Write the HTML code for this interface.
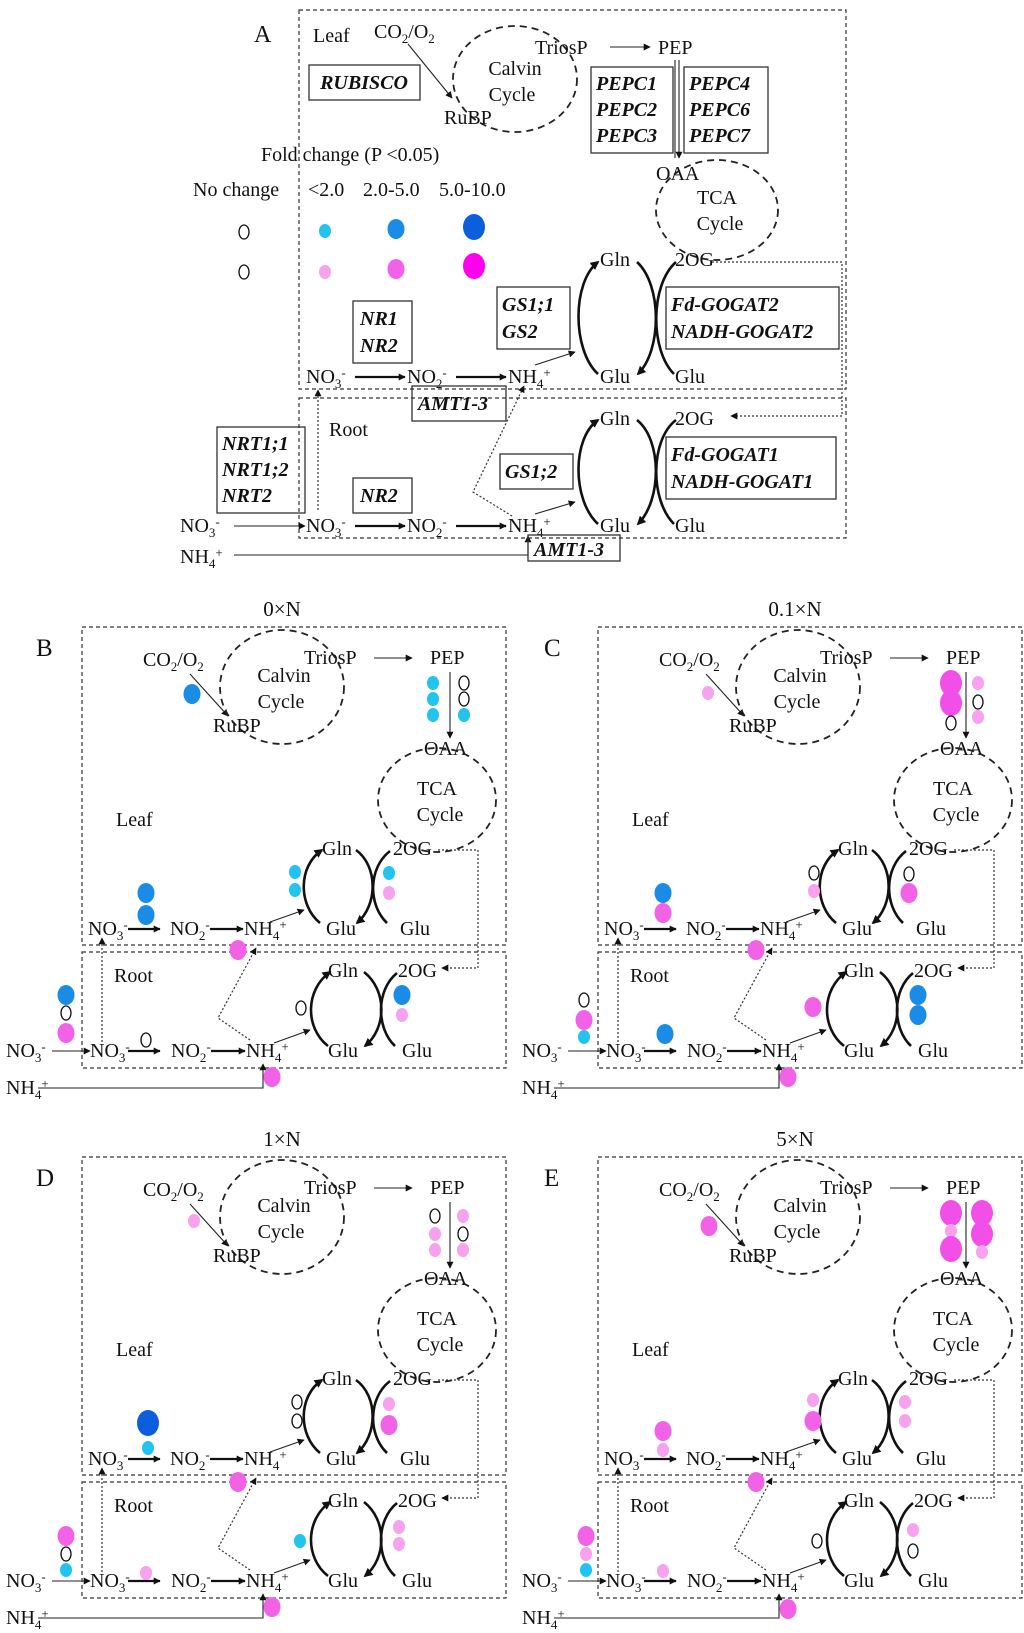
<!DOCTYPE html>
<html><head><meta charset="utf-8"><style>
html,body{margin:0;padding:0;background:#fff;}
svg{display:block;}
text{font-family:"Liberation Serif",serif;font-size:20px;fill:#111;}
.bi{font-weight:bold;font-style:italic;font-size:20px;}
.sb{font-size:13px;}
.box{fill:none;stroke:#333;stroke-width:1.2;stroke-dasharray:4 3;}
.gb{fill:none;stroke:#333;stroke-width:1.3;}
.cyc{fill:none;stroke:#222;stroke-width:1.8;stroke-dasharray:7 5;}
.ln{stroke:#222;stroke-width:1.1;fill:none;}
.th{stroke:#111;stroke-width:2.2;fill:none;}
.arc{stroke:#111;stroke-width:2.6;fill:none;}
.dt{stroke:#333;stroke-width:1.2;fill:none;stroke-dasharray:2 2;}
</style></head><body>
<svg width="1024" height="1633" viewBox="0 0 1024 1633" xmlns="http://www.w3.org/2000/svg">
<defs>
<marker id="a" viewBox="0 0 10 10" refX="9" refY="5" markerWidth="7" markerHeight="7" orient="auto" markerUnits="userSpaceOnUse"><path d="M0,0 L10,5 L0,10 z" fill="#111"/></marker>
<marker id="b" viewBox="0 0 10 10" refX="8" refY="5" markerWidth="9" markerHeight="9" orient="auto" markerUnits="userSpaceOnUse"><path d="M0,0 L10,5 L0,10 z" fill="#111"/></marker>
<ellipse id="sc" rx="6" ry="7" fill="#22c3ee"/>
<ellipse id="mb" rx="8.5" ry="10" fill="#1a8ce6"/>
<ellipse id="lb" rx="11" ry="13" fill="#0b5fdc"/>
<ellipse id="sp" rx="6" ry="7" fill="#f7a2ee"/>
<ellipse id="mp" rx="8.5" ry="10" fill="#f262e6"/>
<ellipse id="lp" rx="11" ry="13" fill="#f24ee8"/>
<ellipse id="lpp" rx="11" ry="13" fill="#ff00ee"/>
<ellipse id="o" rx="5" ry="7" fill="#fff" stroke="#111" stroke-width="1.3"/>
</defs>

<!-- ===== Panel A ===== -->
<rect x="299" y="10" width="547" height="379" class="box"/>
<rect x="299" y="398" width="547" height="140" class="box"/>
<text x="254" y="42" style="font-size:24px">A</text>
<text x="313" y="42">Leaf</text>
<text x="374" y="38">CO<tspan class="sb" dy="5">2</tspan><tspan dy="-5">/O</tspan><tspan class="sb" dy="5">2</tspan></text>
<line x1="408" y1="44" x2="452" y2="98" class="ln" marker-end="url(#a)"/>
<ellipse cx="515" cy="79" rx="62" ry="53" class="cyc"/>
<text x="515" y="75" text-anchor="middle">Calvin</text>
<text x="512" y="101" text-anchor="middle">Cycle</text>
<rect x="309" y="65" width="111" height="35" class="gb"/>
<text x="364" y="89" text-anchor="middle" class="bi">RUBISCO</text>
<text x="444" y="124">RuBP</text>
<text x="535" y="54">TriosP</text>
<line x1="610" y1="47" x2="650" y2="47" class="ln" marker-end="url(#a)"/>
<text x="658" y="54">PEP</text>
<rect x="591" y="67" width="82" height="86" class="gb"/>
<text x="596" y="90" class="bi">PEPC1</text><text x="596" y="116" class="bi">PEPC2</text><text x="596" y="142" class="bi">PEPC3</text>
<rect x="684" y="67" width="84" height="86" class="gb"/>
<text x="689" y="90" class="bi">PEPC4</text><text x="689" y="116" class="bi">PEPC6</text><text x="689" y="142" class="bi">PEPC7</text>
<line x1="675" y1="60" x2="675" y2="158" class="ln"/>
<line x1="679" y1="60" x2="679" y2="158" class="ln" marker-end="url(#a)"/>
<text x="656" y="180">OAA</text>
<ellipse cx="717" cy="210" rx="61" ry="50" class="cyc"/>
<text x="717" y="204" text-anchor="middle">TCA</text>
<text x="720" y="230" text-anchor="middle">Cycle</text>
<text x="261" y="161">Fold change (P &lt;0.05)</text>
<text x="193" y="196">No change</text>
<text x="308" y="196">&lt;2.0</text>
<text x="363" y="196">2.0-5.0</text>
<text x="439" y="196">5.0-10.0</text>
<use href="#o" x="244" y="232"/><use href="#sc" x="325" y="231"/><use href="#mb" x="396" y="229"/><use href="#lb" x="474" y="227"/>
<use href="#o" x="244" y="272"/><use href="#sp" x="325" y="272"/><use href="#mp" x="396" y="269"/><use href="#lpp" x="474" y="266"/>
<text x="600" y="266">Gln</text>
<text x="675" y="266">2OG</text>
<path d="M598 374 C572 350,572 282,598 262" class="arc" marker-end="url(#b)"/>
<path d="M637 262 C662 285,662 350,638 374" class="arc" marker-end="url(#b)"/>
<path d="M676 262 C650 285,650 350,674 374" class="arc"/>
<rect x="497" y="287" width="73" height="62" class="gb"/>
<text x="502" y="311" class="bi">GS1;1</text><text x="502" y="338" class="bi">GS2</text>
<rect x="666" y="287" width="173" height="62" class="gb"/>
<text x="671" y="311" class="bi">Fd-GOGAT2</text><text x="671" y="338" class="bi">NADH-GOGAT2</text>
<rect x="353" y="301" width="59" height="62" class="gb"/>
<text x="360" y="325" class="bi">NR1</text><text x="360" y="352" class="bi">NR2</text>
<text x="306" y="383">NO<tspan class="sb" dy="5">3</tspan><tspan class="sb" dy="-11">-</tspan></text>
<line x1="355" y1="377" x2="405" y2="377" class="th" marker-end="url(#a)"/>
<text x="407" y="383">NO<tspan class="sb" dy="5">2</tspan><tspan class="sb" dy="-11">-</tspan></text>
<line x1="456" y1="377" x2="506" y2="377" class="th" marker-end="url(#a)"/>
<text x="508" y="383">NH<tspan class="sb" dy="5">4</tspan><tspan class="sb" dy="-11">+</tspan></text>
<line x1="535" y1="365" x2="575" y2="352" class="ln" marker-end="url(#a)"/>
<text x="600" y="383">Glu</text>
<text x="675" y="383">Glu</text>
<rect x="412" y="386" width="94" height="35" class="gb"/>
<text x="418" y="410" class="bi">AMT1-3</text>
<path d="M712 262 H842 V416 H731" class="dt" marker-end="url(#a)"/>
<text x="329" y="436">Root</text>
<text x="600" y="425">Gln</text>
<text x="675" y="425">2OG</text>
<path d="M598 524 C572 500,572 438,598 420" class="arc" marker-end="url(#b)"/>
<path d="M637 420 C662 440,662 500,638 524" class="arc" marker-end="url(#b)"/>
<path d="M676 420 C650 440,650 500,674 524" class="arc"/>
<rect x="217" y="427" width="88" height="86" class="gb"/>
<text x="222" y="450" class="bi">NRT1;1</text><text x="222" y="476" class="bi">NRT1;2</text><text x="222" y="502" class="bi">NRT2</text>
<rect x="500" y="454" width="73" height="35" class="gb"/>
<text x="505" y="478" class="bi">GS1;2</text>
<rect x="666" y="437" width="170" height="62" class="gb"/>
<text x="671" y="461" class="bi">Fd-GOGAT1</text><text x="671" y="488" class="bi">NADH-GOGAT1</text>
<rect x="353" y="478" width="59" height="35" class="gb"/>
<text x="360" y="502" class="bi">NR2</text>
<text x="180" y="532">NO<tspan class="sb" dy="5">3</tspan><tspan class="sb" dy="-11">-</tspan></text>
<line x1="234" y1="526" x2="305" y2="526" class="ln" marker-end="url(#a)"/>
<text x="306" y="532">NO<tspan class="sb" dy="5">3</tspan><tspan class="sb" dy="-11">-</tspan></text>
<line x1="355" y1="526" x2="405" y2="526" class="th" marker-end="url(#a)"/>
<text x="407" y="532">NO<tspan class="sb" dy="5">2</tspan><tspan class="sb" dy="-11">-</tspan></text>
<line x1="456" y1="526" x2="506" y2="526" class="th" marker-end="url(#a)"/>
<text x="508" y="532">NH<tspan class="sb" dy="5">4</tspan><tspan class="sb" dy="-11">+</tspan></text>
<line x1="535" y1="514" x2="575" y2="502" class="ln" marker-end="url(#a)"/>
<text x="600" y="532">Glu</text>
<text x="675" y="532">Glu</text>
<path d="M318 510 V390" class="dt" marker-end="url(#a)"/>
<path d="M512 516 L473 492 L524 386" class="dt" marker-end="url(#a)"/>
<text x="180" y="563">NH<tspan class="sb" dy="5">4</tspan><tspan class="sb" dy="-11">+</tspan></text>
<path d="M234 555 H528 V536" class="ln" marker-end="url(#a)"/>
<rect x="528" y="535" width="92" height="26" class="gb"/>
<text x="534" y="556" class="bi">AMT1-3</text>

<!-- ===== Panels B-E (template) ===== -->
<g id="pB">
<rect x="82" y="627" width="424" height="318" class="box"/>
<rect x="82" y="952" width="424" height="116" class="box"/>
<text x="143" y="666">CO<tspan class="sb" dy="5">2</tspan><tspan dy="-5">/O</tspan><tspan class="sb" dy="5">2</tspan></text>
<line x1="190" y1="674" x2="228" y2="716" class="ln" marker-end="url(#a)"/>
<ellipse cx="282" cy="687" rx="62" ry="57" class="cyc"/>
<text x="284" y="682" text-anchor="middle">Calvin</text>
<text x="281" y="708" text-anchor="middle">Cycle</text>
<text x="213" y="732">RuBP</text>
<text x="304" y="664">TriosP</text>
<line x1="374" y1="658" x2="412" y2="658" class="ln" marker-end="url(#a)"/>
<text x="430" y="664">PEP</text>
<line x1="450" y1="672" x2="450" y2="738" class="ln" marker-end="url(#a)"/>
<text x="424" y="755">OAA</text>
<ellipse cx="437" cy="800" rx="59" ry="52" class="cyc"/>
<text x="437" y="795" text-anchor="middle">TCA</text>
<text x="440" y="821" text-anchor="middle">Cycle</text>
<text x="116" y="826">Leaf</text>
<text x="322" y="855">Gln</text>
<text x="393" y="855">2OG</text>
<path d="M320 923 C298 905,298 866,322 850" class="arc" marker-end="url(#b)"/>
<path d="M356 850 C378 866,378 905,357 923" class="arc" marker-end="url(#b)"/>
<path d="M390 851 C368 868,368 905,387 923" class="arc"/>
<path d="M438 850 H478 V968 H442" class="dt" marker-end="url(#a)"/>
<text x="88" y="935">NO<tspan class="sb" dy="5">3</tspan><tspan class="sb" dy="-11">-</tspan></text>
<line x1="128" y1="929" x2="160" y2="929" class="th" marker-end="url(#a)"/>
<text x="170" y="935">NO<tspan class="sb" dy="5">2</tspan><tspan class="sb" dy="-11">-</tspan></text>
<line x1="210" y1="929" x2="243" y2="929" class="th" marker-end="url(#a)"/>
<text x="244" y="935">NH<tspan class="sb" dy="5">4</tspan><tspan class="sb" dy="-11">+</tspan></text>
<line x1="270" y1="922" x2="304" y2="910" class="ln" marker-end="url(#a)"/>
<text x="326" y="935">Glu</text>
<text x="400" y="935">Glu</text>
<text x="114" y="982">Root</text>
<text x="328" y="977">Gln</text>
<text x="398" y="977">2OG</text>
<path d="M328 1046 C305 1028,305 990,330 972" class="arc" marker-end="url(#b)"/>
<path d="M364 972 C387 990,387 1028,365 1046" class="arc" marker-end="url(#b)"/>
<path d="M397 973 C376 990,376 1028,395 1046" class="arc"/>
<text x="6" y="1057">NO<tspan class="sb" dy="5">3</tspan><tspan class="sb" dy="-11">-</tspan></text>
<line x1="52" y1="1051" x2="90" y2="1051" class="ln" marker-end="url(#a)"/>
<text x="90" y="1057">NO<tspan class="sb" dy="5">3</tspan><tspan class="sb" dy="-11">-</tspan></text>
<line x1="128" y1="1051" x2="160" y2="1051" class="th" marker-end="url(#a)"/>
<text x="171" y="1057">NO<tspan class="sb" dy="5">2</tspan><tspan class="sb" dy="-11">-</tspan></text>
<line x1="211" y1="1051" x2="245" y2="1051" class="th" marker-end="url(#a)"/>
<text x="246" y="1057">NH<tspan class="sb" dy="5">4</tspan><tspan class="sb" dy="-11">+</tspan></text>
<line x1="274" y1="1043" x2="310" y2="1030" class="ln" marker-end="url(#a)"/>
<text x="328" y="1057">Glu</text>
<text x="402" y="1057">Glu</text>
<path d="M102 1042 V938" class="dt" marker-end="url(#a)"/>
<path d="M250 1040 L218 1018 L256 948" class="dt" marker-end="url(#a)"/>
<text x="6" y="1094">NH<tspan class="sb" dy="5">4</tspan><tspan class="sb" dy="-11">+</tspan></text>
<path d="M38 1088 H263 V1064" class="ln" marker-end="url(#a)"/>
</g>
<use href="#pB" x="516" y="0"/>
<use href="#pB" x="0" y="530"/>
<use href="#pB" x="516" y="530"/>

<!-- titles & letters -->
<text x="282" y="616" text-anchor="middle" style="font-size:21px">0×N</text>
<text x="795" y="616" text-anchor="middle" style="font-size:21px">0.1×N</text>
<text x="282" y="1146" text-anchor="middle" style="font-size:21px">1×N</text>
<text x="795" y="1146" text-anchor="middle" style="font-size:21px">5×N</text>
<text x="36" y="656" style="font-size:25px">B</text>
<text x="544" y="656" style="font-size:25px">C</text>
<text x="36" y="1186" style="font-size:25px">D</text>
<text x="544" y="1186" style="font-size:25px">E</text>

<!-- B dots -->
<g>
<use href="#mb" x="192" y="694"/>
<use href="#sc" x="433" y="683"/><use href="#sc" x="433" y="699"/><use href="#sc" x="433" y="715"/>
<use href="#o" x="464" y="683"/><use href="#o" x="464" y="699"/><use href="#sc" x="464" y="715"/>
<use href="#mb" x="146" y="893"/><use href="#mb" x="146" y="915"/>
<use href="#mp" x="238" y="950"/>
<use href="#sc" x="295" y="872"/><use href="#sc" x="295" y="890"/>
<use href="#sc" x="389" y="873"/><use href="#sp" x="389" y="893"/>
<use href="#mb" x="66" y="995"/><use href="#o" x="66" y="1013"/><use href="#mp" x="66" y="1033"/>
<use href="#o" x="146" y="1040"/>
<use href="#o" x="301" y="1008"/>
<use href="#mb" x="402" y="995"/><use href="#sp" x="402" y="1015"/>
<use href="#mp" x="272" y="1077"/>
</g>
<!-- C dots -->
<g transform="translate(516,0)">
<use href="#sp" x="192" y="693"/>
<use href="#lp" x="435" y="683"/><use href="#lp" x="435" y="703"/><use href="#o" x="435" y="723"/>
<use href="#sp" x="462" y="683"/><use href="#o" x="462" y="702"/><use href="#sp" x="462" y="717"/>
<use href="#mb" x="147" y="893"/><use href="#mp" x="147" y="913"/>
<use href="#mp" x="240" y="950"/>
<use href="#o" x="298" y="873"/><use href="#sp" x="298" y="891"/>
<use href="#o" x="393" y="874"/><use href="#mp" x="393" y="893"/>
<use href="#o" x="68" y="1000"/><use href="#mp" x="68" y="1020"/><use href="#sc" x="68" y="1037"/>
<use href="#mb" x="149" y="1034"/>
<use href="#mp" x="297" y="1007"/>
<use href="#mb" x="402" y="995"/><use href="#mb" x="402" y="1015"/>
<use href="#mp" x="272" y="1077"/>
</g>
<!-- D dots -->
<g transform="translate(0,530)">
<use href="#sp" x="194" y="691"/>
<use href="#o" x="435" y="686"/><use href="#sp" x="435" y="704"/><use href="#sp" x="435" y="720"/>
<use href="#sp" x="463" y="686"/><use href="#o" x="463" y="704"/><use href="#sp" x="463" y="720"/>
<use href="#lb" x="148" y="893"/><use href="#sc" x="148" y="918"/>
<use href="#mp" x="238" y="952"/>
<use href="#o" x="297" y="872"/><use href="#o" x="297" y="891"/>
<use href="#sp" x="389" y="874"/><use href="#mp" x="389" y="895"/>
<use href="#mp" x="66" y="1006"/><use href="#o" x="66" y="1024"/><use href="#sc" x="66" y="1040"/>
<use href="#sp" x="146" y="1043"/>
<use href="#sc" x="300" y="1011"/>
<use href="#sp" x="399" y="997"/><use href="#sp" x="399" y="1014"/>
<use href="#mp" x="272" y="1077"/>
</g>
<!-- E dots -->
<g transform="translate(516,530)">
<use href="#mp" x="193" y="696"/>
<use href="#lp" x="435" y="683"/><use href="#sp" x="435" y="701"/><use href="#lp" x="435" y="719"/>
<use href="#lp" x="466" y="683"/><use href="#lp" x="466" y="704"/><use href="#sp" x="466" y="722"/>
<use href="#mp" x="147" y="901"/><use href="#sp" x="147" y="920"/>
<use href="#mp" x="240" y="952"/>
<use href="#sp" x="297" y="870"/><use href="#mp" x="297" y="891"/>
<use href="#sp" x="389" y="872"/><use href="#sp" x="389" y="891"/>
<use href="#mp" x="70" y="1006"/><use href="#sp" x="70" y="1024"/><use href="#sc" x="70" y="1040"/>
<use href="#sp" x="147" y="1041"/>
<use href="#o" x="301" y="1011"/>
<use href="#sp" x="397" y="1000"/><use href="#o" x="397" y="1021"/>
<use href="#mp" x="272" y="1079"/>
</g>
</svg>
</body></html>
